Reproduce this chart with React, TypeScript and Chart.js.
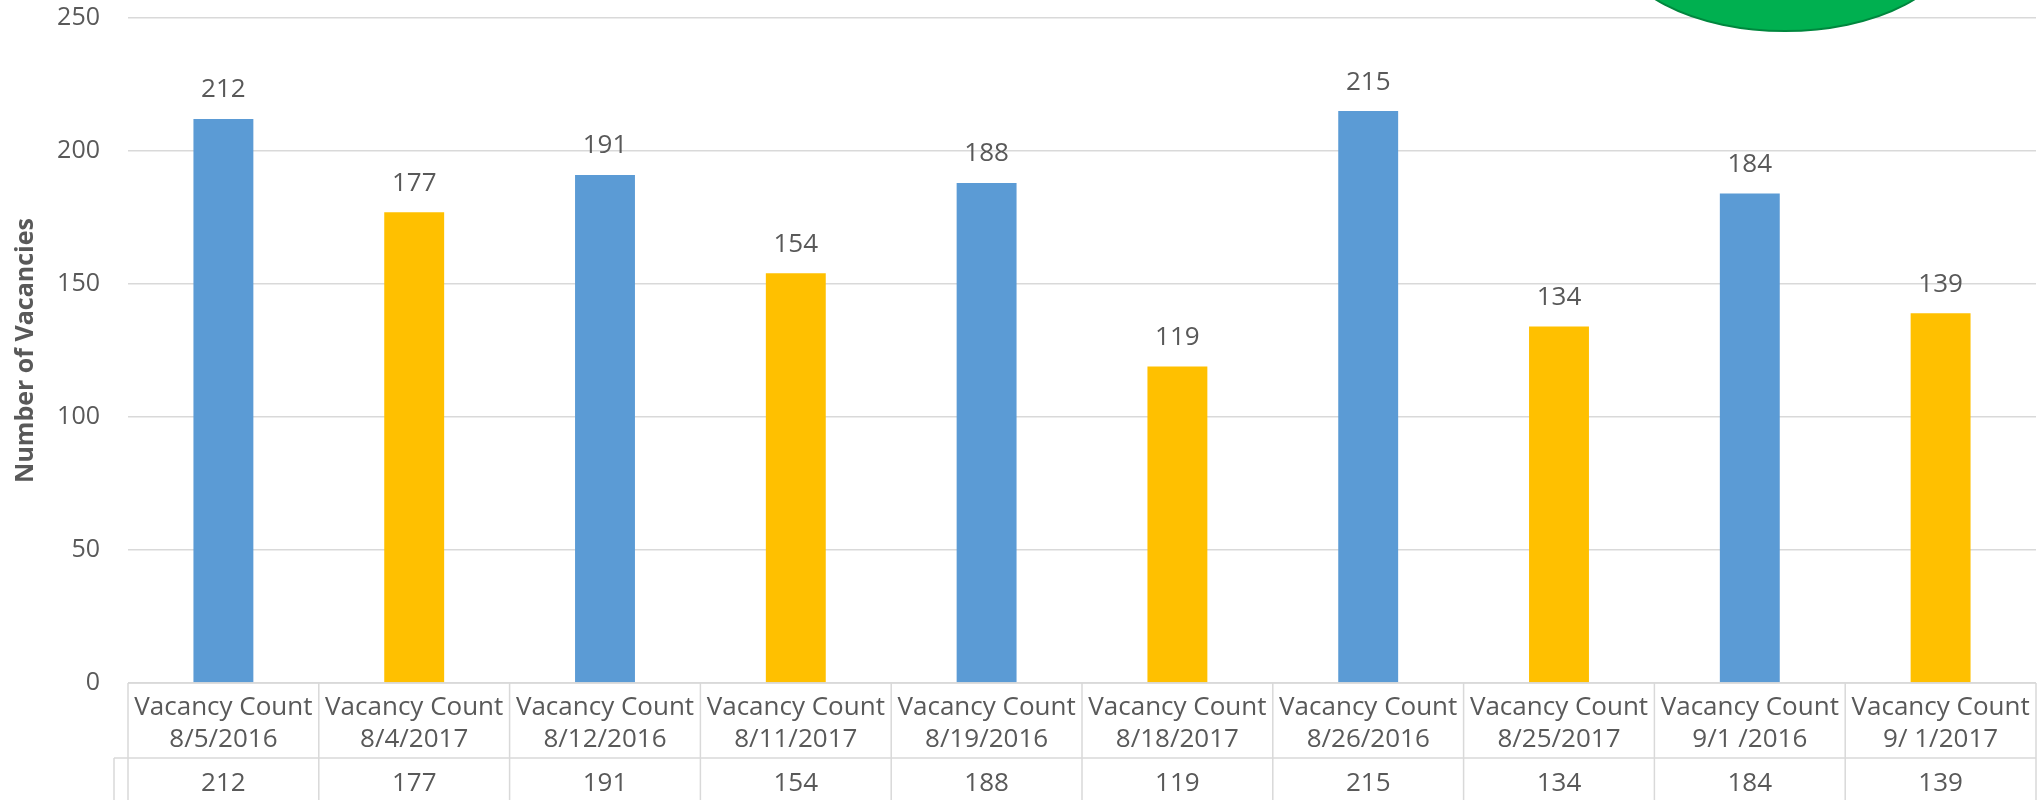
import React, { useEffect, useRef } from "react";
import { Chart, registerables } from "chart.js";

Chart.register(...registerables);

const categoryNames: string[] = [
  "Vacancy Count",
  "Vacancy Count",
  "Vacancy Count",
  "Vacancy Count",
  "Vacancy Count",
  "Vacancy Count",
  "Vacancy Count",
  "Vacancy Count",
  "Vacancy Count",
  "Vacancy Count",
];
const categoryDates: string[] = [
  "8/5/2016",
  "8/4/2017",
  "8/12/2016",
  "8/11/2017",
  "8/19/2016",
  "8/18/2017",
  "8/26/2016",
  "8/25/2017",
  "9/1 /2016",
  "9/ 1/2017",
];
const vacancyValues: number[] = [212, 177, 191, 154, 188, 119, 215, 134, 184, 139];
const barColors: string[] = [
  "#5B9BD5", "#FFC000", "#5B9BD5", "#FFC000", "#5B9BD5",
  "#FFC000", "#5B9BD5", "#FFC000", "#5B9BD5", "#FFC000",
];
const yTicksMin = 0;
const yTicksMax = 250;
const yTicksStep = 50;
const yTitle = "Number of Vacancies";

const FONT = "'Open Sans', 'Noto Sans', sans-serif";
const TEXT = "#595959";
const GRID = "#D9D9D9";

const tablePlugin = {
  id: "dataTable",
  afterDraw(chart: any) {
    const { ctx, chartArea } = chart;
    const xs = chart.scales.x;
    const n = vacancyValues.length;
    const colW = (chartArea.right - chartArea.left) / n;
    const y0 = chartArea.bottom;
    const y1 = y0 + 75;
    const yEnd = chart.height;
    const valueLeft = chartArea.left - 14;
    ctx.save();
    ctx.strokeStyle = GRID;
    ctx.lineWidth = 1.5;
    ctx.beginPath();
    ctx.moveTo(chartArea.left, y0);
    ctx.lineTo(chartArea.right, y0);
    ctx.moveTo(valueLeft, y1);
    ctx.lineTo(chartArea.right, y1);
    for (let i = 0; i <= n; i++) {
      const x = chartArea.left + i * colW;
      ctx.moveTo(x, y0);
      ctx.lineTo(x, yEnd);
    }
    ctx.moveTo(valueLeft, y1);
    ctx.lineTo(valueLeft, yEnd);
    ctx.stroke();
    ctx.fillStyle = TEXT;
    ctx.font = `26px ${FONT}`;
    ctx.textAlign = "center";
    ctx.textBaseline = "middle";
    for (let i = 0; i < n; i++) {
      const cx = xs.getPixelForValue(i);
      ctx.fillText(String(vacancyValues[i]), cx, y1 + 26);
    }
    ctx.restore();
  },
};

const labelPlugin = {
  id: "barLabels",
  afterDatasetsDraw(chart: any) {
    const { ctx } = chart;
    const meta = chart.getDatasetMeta(0);
    ctx.save();
    ctx.fillStyle = TEXT;
    ctx.font = `26px ${FONT}`;
    ctx.textAlign = "center";
    ctx.textBaseline = "middle";
    meta.data.forEach((bar: any, i: number) => {
      ctx.fillText(String(vacancyValues[i]), bar.x, bar.y - 29);
    });
    ctx.restore();
  },
};

const badgePlugin = {
  id: "badge",
  afterDraw(chart: any) {
    const { ctx } = chart;
    ctx.save();
    ctx.beginPath();
    ctx.ellipse(1785, -59, 170, 90, 0, 0, Math.PI * 2);
    ctx.fillStyle = "#00B050";
    ctx.fill();
    ctx.lineWidth = 2;
    ctx.strokeStyle = "#00873E";
    ctx.stroke();
    ctx.restore();
  },
};

export default function App() {
  const ref = useRef<HTMLCanvasElement | null>(null);
  useEffect(() => {
    if (!ref.current) return;
    const chart = new Chart(ref.current, {
      type: "bar",
      data: {
        labels: categoryNames.map((c, i) => [c, categoryDates[i]]),
        datasets: [
          {
            label: "Vacancy Count",
            data: vacancyValues,
            backgroundColor: barColors,
            borderWidth: 0,
            categoryPercentage: 1,
            barPercentage: 0.314,
          },
        ],
      },
      options: {
        animation: false,
        responsive: false,
        maintainAspectRatio: false,
        layout: { padding: { top: 18, right: 2, bottom: 0, left: 0 } },
        plugins: {
          legend: { display: false },
          tooltip: { enabled: false },
        },
        scales: {
          x: {
            grid: { display: false },
            border: { display: false },
            ticks: {
              color: TEXT,
              font: { family: FONT, size: 26, lineHeight: 1.22 },
              padding: 1,
              maxRotation: 0,
              autoSkip: false,
            },
            afterFit: (s: any) => {
              s.height = 117;
            },
          },
          y: {
            min: yTicksMin,
            max: yTicksMax,
            border: { display: false },
            grid: {
              color: GRID,
              lineWidth: 1.5,
              drawTicks: true,
              tickLength: 25,
              tickColor: "rgba(0,0,0,0)",
            },
            ticks: {
              stepSize: yTicksStep,
              color: TEXT,
              font: { family: FONT, size: 25 },
              padding: 3,
            },
            title: {
              display: true,
              text: yTitle,
              color: TEXT,
              font: { family: FONT, size: 25, weight: "bold" },
              padding: { top: 11, bottom: 0 },
            },
            afterFit: (s: any) => {
              s.width = 128;
            },
          },
        },
      },
      plugins: [labelPlugin, tablePlugin, badgePlugin],
    });
    return () => chart.destroy();
  }, []);
  return (
    <div style={{ position: "fixed", left: 0, top: 0, width: 2038, height: 800, background: "#fff" }}>
      <canvas ref={ref} width={2038} height={800} />
    </div>
  );
}
